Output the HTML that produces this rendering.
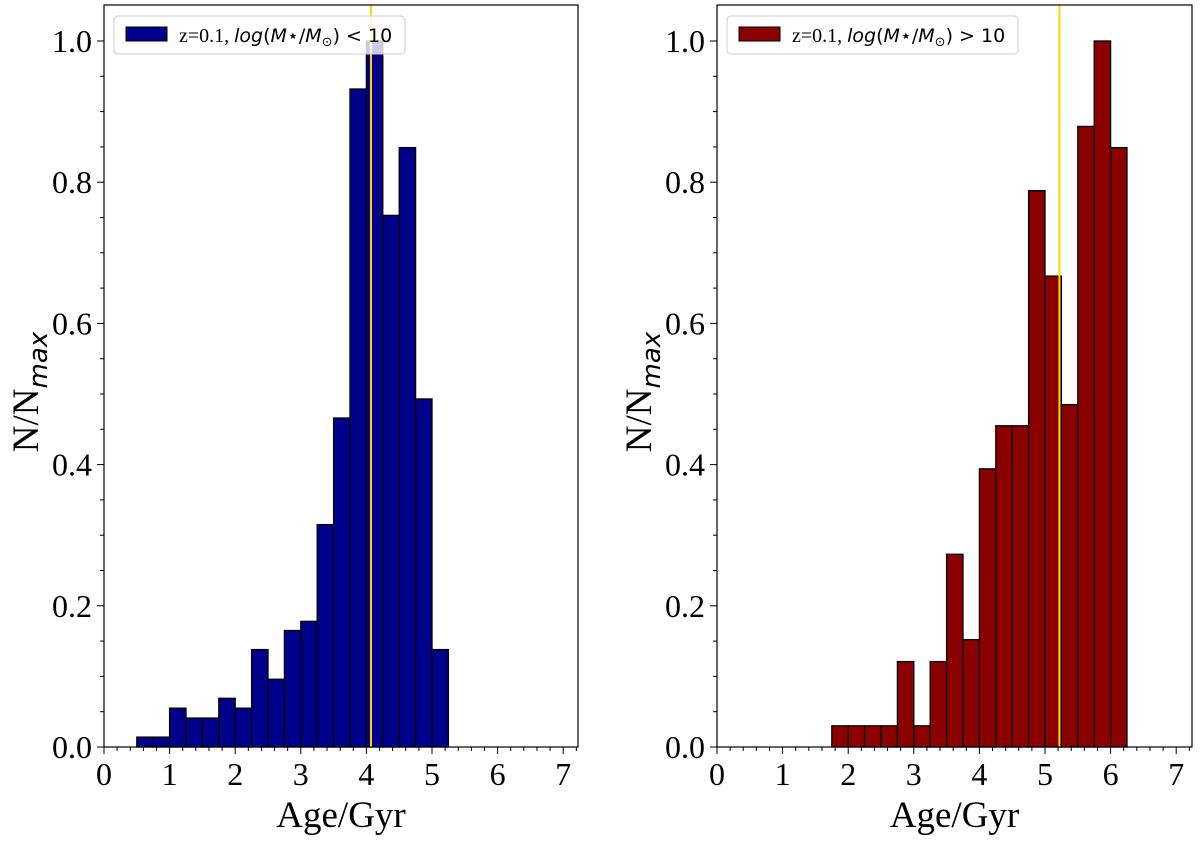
<!DOCTYPE html>
<html><head><meta charset="utf-8"><style>
body{margin:0;background:#fff;}
svg text{font-family:"Liberation Serif",serif;fill:#000;}
</style></head><body>
<svg id="fig" width="1200" height="844" xmlns="http://www.w3.org/2000/svg"></svg>
<script>
const binWidth = 0.25;
const leftBinStart = 0.5;
const leftValues = [0.014,0.014,0.055,0.041,0.041,0.069,0.055,0.138,0.096,0.165,0.178,0.315,0.466,0.932,1.0,0.753,0.849,0.493,0.138];
const leftMedian = 4.07;
const rightBinStart = 1.75;
const rightValues = [0.03,0.03,0.03,0.03,0.121,0.03,0.121,0.273,0.152,0.394,0.455,0.455,0.788,0.667,0.485,0.879,1.0,0.849];
const rightMedian = 5.22;
const xTicks = [0,1,2,3,4,5,6,7];
const yTicks = [0.0,0.2,0.4,0.6,0.8,1.0];
const yTickLabels = ["0.0","0.2","0.4","0.6","0.8","1.0"];

const NS="http://www.w3.org/2000/svg";
const svg=document.getElementById('fig');
function mk(t,a,p){const e=document.createElementNS(NS,t);for(const k in a)e.setAttribute(k,a[k]);(p||svg).appendChild(e);return e;}

function panel(name,x0,x1,binStart,values,median,color,legendHtml){
  const g=mk('g',{});
  
  
  const top=5,bot=747,unit=65.6,y1pos=41;
  const X=v=>x0+v*unit;
  const Y=v=>bot-v*(bot-y1pos);
  values.forEach((v,i)=>{
    const r=mk('rect',{x:X(binStart+i*binWidth),y:Y(v),width:binWidth*unit,height:bot-Y(v),fill:color,stroke:'#000','stroke-width':1.3},g);
    
    
  });
  const ml=mk('line',{x1:X(median),x2:X(median),y1:top,y2:bot,stroke:'#ffd700','stroke-width':2},g);
  
  
  const fr=mk('rect',{x:x0,y:top,width:x1-x0,height:bot-top,fill:'none',stroke:'#000','stroke-width':1.2},g);
  
  
  for(let v=0;v<=7.2001;v+=0.2){
    const major=Math.abs(v-Math.round(v))<1e-6;
    mk('line',{x1:X(v),x2:X(v),y1:bot,y2:bot+(major?7:4),stroke:'#000','stroke-width':1},g);
  }
  xTicks.forEach(v=>{
    const t=mk('text',{x:X(v),y:bot+38,'font-size':32,'text-anchor':'middle'},g);
    t.textContent=v;
    
    
  });
  for(let v=0;v<=1.05;v+=0.05){
    const major=Math.abs(v*5-Math.round(v*5))<1e-6;
    mk('line',{x1:x0,x2:x0-(major?7:4),y1:Y(v),y2:Y(v),stroke:'#000','stroke-width':1},g);
  }
  yTicks.forEach((v,i)=>{
    const t=mk('text',{x:x0-12,y:Y(v)+11,'font-size':32,'text-anchor':'end'},g);
    t.textContent=yTickLabels[i];
    
    
  });
  const xl=mk('text',{x:(x0+x1)/2,y:827,'font-size':37,'text-anchor':'middle'},g);
  xl.textContent='Age/Gyr';
  
  
  const yl=mk('text',{transform:`translate(${x0-66},392) rotate(-90)`,'font-size':37,'text-anchor':'middle'},g);
  yl.innerHTML='N/N<tspan font-family="DejaVu Sans" font-style="italic" font-size="26" dy="9">max</tspan>';
  
  
  const lg=mk('g',{},g);
  
  
  mk('rect',{x:x0+10,y:16,width:291,height:38,rx:4,fill:'rgba(255,255,255,0.8)',stroke:'#ccc','stroke-width':1},lg);
  mk('rect',{x:x0+22,y:27,width:41,height:14,fill:color,stroke:'#000','stroke-width':1},lg);
  const lt=mk('text',{x:x0+75,y:42,'font-size':20},lg);
  lt.innerHTML=legendHtml;
  
  
}
const sans='font-family="DejaVu Sans"';
panel('left',104,578,leftBinStart,leftValues,leftMedian,'#00008b',
 `z=0.1, <tspan ${sans} font-style="italic" font-size="19">log</tspan><tspan ${sans} font-size="19">(</tspan><tspan ${sans} font-style="italic" font-size="19">M</tspan><tspan ${sans} font-size="19">⋆/</tspan><tspan ${sans} font-style="italic" font-size="19">M</tspan><tspan ${sans} font-size="13" dy="4">⊙</tspan><tspan ${sans} font-size="19" dy="-4">) &lt; 10</tspan>`);
panel('right',717,1192,rightBinStart,rightValues,rightMedian,'#8b0000',
 `z=0.1, <tspan ${sans} font-style="italic" font-size="19">log</tspan><tspan ${sans} font-size="19">(</tspan><tspan ${sans} font-style="italic" font-size="19">M</tspan><tspan ${sans} font-size="19">⋆/</tspan><tspan ${sans} font-style="italic" font-size="19">M</tspan><tspan ${sans} font-size="13" dy="4">⊙</tspan><tspan ${sans} font-size="19" dy="-4">) &gt; 10</tspan>`);
</script>
</body></html>
